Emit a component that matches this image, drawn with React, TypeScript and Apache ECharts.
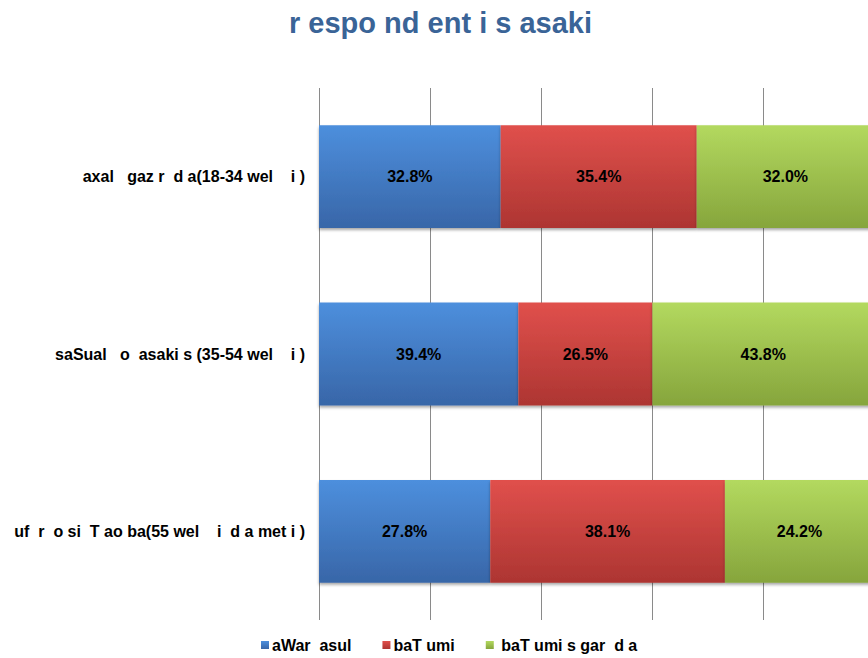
import React, { useEffect, useRef } from "react";
import * as echarts from "echarts";

const titleText = "r espo nd ent i s asaki";
const categories = [
  "axal   gaz r  d a(18-34 wel    i )",
  "saSual   o  asaki s (35-54 wel    i )",
  "uf  r  o si  T ao ba(55 wel    i  d a met i )",
];
const seriesNames = ["aWar  asul", "baT umi", " baT umi s gar  d a"];
const aWarasul = [32.8, 39.4, 27.8];
const baTumi = [35.4, 26.5, 38.1];
const baTumisgarda = [32.0, 43.8, 24.2];
const xTicks = [0, 20, 40, 60, 80, 100];

const grad = (top: string, bottom: string) =>
  new echarts.graphic.LinearGradient(0, 0, 0, 1, [
    { offset: 0, color: top },
    { offset: 1, color: bottom },
  ]);

export default function App() {
  const ref = useRef<HTMLDivElement>(null);
  useEffect(() => {
    if (!ref.current) return;
    const chart = echarts.init(ref.current, undefined, { renderer: "svg" });
    const raw = [aWarasul, baTumi, baTumisgarda];
    const totals = categories.map((_, i) => raw.reduce((s, arr) => s + arr[i], 0));
    const colors = [
      grad("#4d8fdd", "#3866a8"),
      grad("#e0504c", "#ad3532"),
      grad("#b3d95f", "#86a53c"),
    ];
    const font = "'Liberation Sans', Arial, sans-serif";
    chart.setOption({
      animation: false,
      title: {
        text: titleText,
        left: 284,
        top: 3,
        textStyle: {
          fontFamily: font,
          fontSize: 29,
          fontWeight: "bold",
          color: "#3a6497",
        },
      },
      legend: {
        left: 256,
        top: 632,
        icon: "rect",
        itemWidth: 8,
        itemHeight: 8,
        itemGap: 31,
        textStyle: { fontFamily: font, fontSize: 16, fontWeight: "bold", color: "#000", padding: [0, 0, 0, -2] },
        data: seriesNames,
      },
      grid: { left: 319, right: 26, top: 88, bottom: 38, containLabel: false },
      xAxis: {
        type: "value",
        min: xTicks[0],
        max: xTicks[xTicks.length - 1],
        interval: 20,
        axisLabel: { show: false },
        axisLine: { show: false },
        axisTick: { show: false },
        splitLine: { show: true, lineStyle: { color: "#8a8a8a", width: 1 } },
      },
      yAxis: {
        type: "category",
        inverse: true,
        data: categories,
        axisLine: { show: false },
        axisTick: { show: false },
        axisLabel: {
          margin: 14,
          fontFamily: font,
          fontSize: 16,
          fontWeight: "bold",
          color: "#000",
        },
      },
      series: raw.map((arr, si) => ({
        name: seriesNames[si],
        type: "bar",
        stack: "total",
        barCategoryGap: "42%",
        data: arr.map((v, i) => ({ value: (v / totals[i]) * 100, raw: v })),
        itemStyle: {
          color: colors[si],
          shadowColor: "rgba(0,0,0,0.35)",
          shadowBlur: 3,
          shadowOffsetY: 2,
        },
        label: {
          show: true,
          position: "inside",
          fontFamily: font,
          fontSize: 16,
          fontWeight: "bold",
          color: "#000",
          formatter: (p: any) => p.data.raw.toFixed(1) + "%",
        },
      })),
    });
    return () => chart.dispose();
  }, []);
  return (
    <div style={{ position: "fixed", left: 0, top: 0, width: 868, height: 658, overflow: "hidden", background: "#fff" }}>
      <div ref={ref} style={{ width: 900, height: 658 }} />
    </div>
  );
}
